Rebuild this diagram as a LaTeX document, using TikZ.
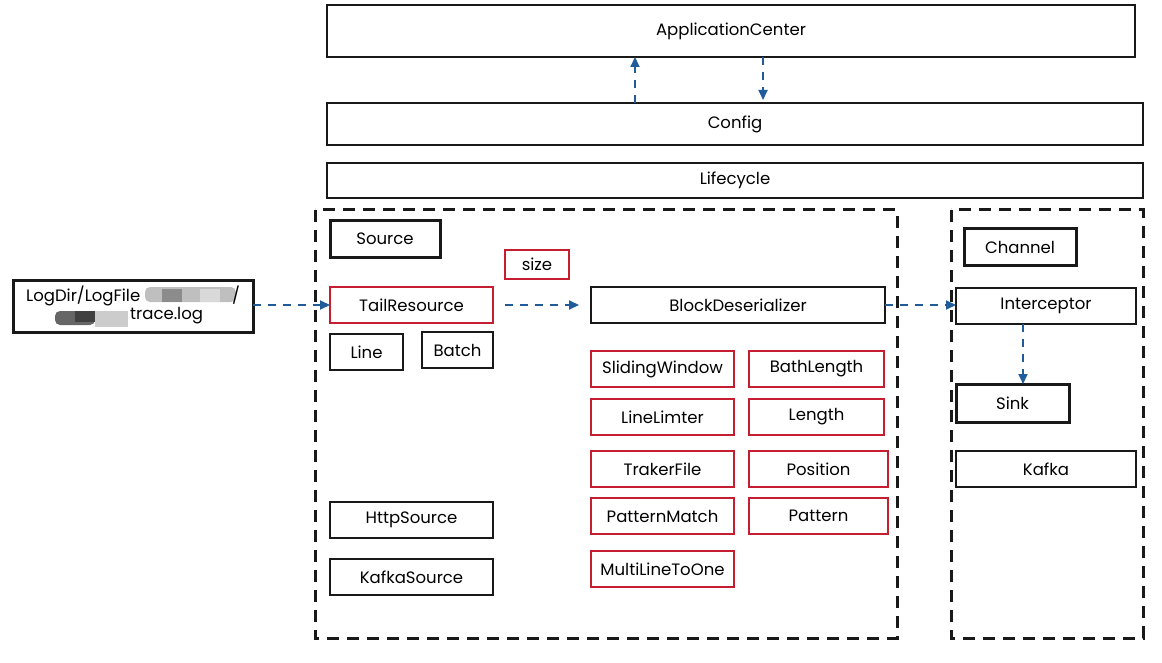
\documentclass[tikz,border=0pt]{standalone}
\usepackage{fontspec}
\setmainfont{Poppins}
\usetikzlibrary{arrows.meta}
\definecolor{redb}{HTML}{C41E30}
\definecolor{bluea}{HTML}{1F5C99}
\tikzset{
  base/.style={draw, inner sep=0pt, outer sep=0pt, anchor=north west, font=\fontsize{16.5}{19}\selectfont},
  blk/.style={base, line width=2pt, draw=black!90},
  blkthick/.style={base, line width=3pt, draw=black!90},
  redbox/.style={base, line width=2pt, draw=redb},
  group/.style={draw=black!90, line width=3pt, dash pattern=on 12pt off 8pt},
  flow/.style={draw=bluea, line width=2pt, dash pattern=on 8pt off 7pt, -{Triangle[length=10pt,width=9pt]}},
}
\newcommand{\bx}[7]{\node[#2, minimum width={(#5-#3)*1pt}, minimum height={(#6-#4)*1pt}] (#1) at (#3,#4) {#7};}
\begin{document}
\begin{tikzpicture}[x=1pt,y=-1pt]
\useasboundingbox (0,0) rectangle (1162,663);
% groups
\draw[group] (315,210) rectangle (897,638);
\draw[group] (951,210) rectangle (1143,638);
% top layers
\bx{app}{blk}{327}{5}{1135}{57}{ApplicationCenter}
\bx{cfg}{blk}{327}{103}{1143}{145}{Config}
\bx{life}{blk}{327}{163}{1143}{198}{Lifecycle}
% left group
\bx{src}{blkthick}{330}{221}{440}{257}{Source}
\bx{size}{redbox}{505}{250}{569}{279}{size}
\bx{tail}{redbox}{330}{287}{493}{323}{TailResource}
\bx{block}{blk}{591}{287}{885}{323}{BlockDeserializer}
\bx{line}{blk}{330}{334}{403}{370}{Line}
\bx{batch}{blk}{422}{332}{493}{368}{Batch}
\bx{slide}{redbox}{591}{351}{734}{387}{SlidingWindow}
\bx{bath}{redbox}{749}{351}{884}{387}{BathLength}
\bx{limit}{redbox}{591}{399}{734}{435}{LineLimter}
\bx{len}{redbox}{749}{399}{884}{435}{Length}
\bx{track}{redbox}{591}{451}{734}{487}{TrakerFile}
\bx{pos}{redbox}{749}{451}{888}{487}{Position}
\bx{pmatch}{redbox}{591}{498}{734}{534}{PatternMatch}
\bx{pat}{redbox}{749}{498}{888}{534}{Pattern}
\bx{multi}{redbox}{591}{551}{734}{587}{MultiLineToOne}
\bx{http}{blk}{330}{502}{493}{538}{HttpSource}
\bx{ksrc}{blk}{330}{559}{493}{595}{KafkaSource}
% right group
\bx{chan}{blkthick}{964}{229}{1076}{265}{Channel}
\bx{inter}{blk}{956}{288}{1136}{324}{Interceptor}
\bx{sink}{blkthick}{956}{384}{1069}{422}{Sink}
\bx{kafka}{blk}{956}{451}{1136}{487}{Kafka}
% log input
\bx{log}{blkthick}{13}{280}{253}{332}{}
\fill[black!25, rounded corners=5pt] (145,287) rectangle (236,302);
\fill[black!45] (162,289) rectangle (182,302);
\fill[black!15] (200,289) rectangle (220,302);
\fill[black!60, rounded corners=5pt] (55,311) rectangle (95,325);
\fill[black!75] (75,311) rectangle (95,322);
\fill[black!20] (95,311) rectangle (128,327);
\node[anchor=west, inner sep=0pt, font=\fontsize{16.5}{19}\selectfont] (logt1) at (26,296) {LogDir/LogFile};
\node[anchor=west, inner sep=0pt, font=\fontsize{16.5}{19}\selectfont] (logt2) at (130,316) {trace.log};
\node[anchor=west, inner sep=0pt, font=\fontsize{16.5}{19}\selectfont] (logt3) at (232,295) {/};
% connectors
\coordinate (upS) at (635,103);
\coordinate (upE) at (635,57);
\coordinate (dnS) at (763,57);
\coordinate (dnE) at (763,100);
\draw[flow] (upS) -- (upE);
\draw[flow] (dnS) -- (dnE);
\draw[flow] (log.east |- tail.west) -- (tail.west);
\coordinate (t1) at (505,305);
\coordinate (t2) at (591,305);
\draw[flow] (t1) -- ([xshift=-12pt]t2);
\draw[flow] (block.east) -- (inter.west |- block.east);
\draw[flow] (inter.south -| 1023,0) -- (sink.north -| 1023,0);
\end{tikzpicture}
\end{document}
